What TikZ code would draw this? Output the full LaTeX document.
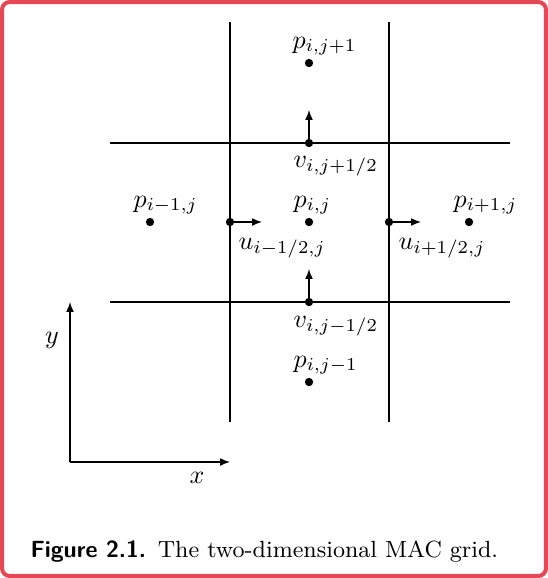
\documentclass[tikz,border=0pt]{standalone}
\usetikzlibrary{arrows.meta}
\definecolor{framered}{RGB}{228,72,84}
\tikzset{
  grid/.style={line width=0.5pt},
  dot/.style={circle,fill=black,inner sep=0pt,minimum size=3.2pt},
  vec/.style={line width=0.5pt,-{Latex[length=3.8pt,width=3pt]}},
  lab/.style={anchor=base west,inner sep=0pt,font=\fontsize{10}{12}\selectfont},
  axlab/.style={inner sep=0pt,font=\fontsize{10}{12}\selectfont},
}
\begin{document}
\begin{tikzpicture}[x=0.3846pt,y=-0.3846pt]
\useasboundingbox (0,0) rectangle (548,578);
\draw[framered,line width=1.55pt,rounded corners=3pt] (2,2) rectangle (546,576);
% grid lines
\coordinate (v1t) at (230,22); \coordinate (v1b) at (230,422);
\coordinate (v2t) at (389,22); \coordinate (v2b) at (389,422);
\coordinate (h1l) at (110,143); \coordinate (h1r) at (510,143);
\coordinate (h2l) at (110,302); \coordinate (h2r) at (510,302);
\draw[grid] (v1t) -- (v1b);
\draw[grid] (v2t) -- (v2b);
\draw[grid] (h1l) -- (h1r);
\draw[grid] (h2l) -- (h2r);
% pressure points
\node[dot] (pij) at (309,222) {};
\node[dot] (pijp) at (309,63) {};
\node[dot] (pijm) at (309,382) {};
\node[dot] (pim) at (150,222) {};
\node[dot] (pip) at (469,222) {};
% velocity points
\node[dot] (uL) at (230,222) {};
\node[dot] (uR) at (389,222) {};
\node[dot] (vT) at (309,143) {};
\node[dot] (vB) at (309,302) {};
\coordinate (uLe) at (262,222);
\coordinate (uRe) at (421,222);
\coordinate (vTe) at (309,110);
\coordinate (vBe) at (309,269);
\draw[vec] (uL.center) -- (uLe);
\draw[vec] (uR.center) -- (uRe);
\draw[vec] (vT.center) -- (vTe);
\draw[vec] (vB.center) -- (vBe);
% labels
\node[lab] (lpijp) at (292,48) {$p_{i,j+1}$};
\node[lab] (lpij) at (293,207) {$p_{i,j}$};
\node[lab] (lpim) at (133,207) {$p_{i-1,j}$};
\node[lab] (lpip) at (453,207) {$p_{i+1,j}$};
\node[lab] (lpijm) at (293,367) {$p_{i,j-1}$};
\node[lab] (lvT) at (293,167) {$v_{i,j+1/2}$};
\node[lab] (lvB) at (293,327) {$v_{i,j-1/2}$};
\node[lab] (luL) at (238,249) {$u_{i-1/2,j}$};
\node[lab] (luR) at (398,249) {$u_{i+1/2,j}$};
% axes
\coordinate (O) at (70,462);
\coordinate (Y) at (70,302);
\coordinate (X) at (230,462);
\draw[vec] (O) -- (Y);
\draw[vec] (O) -- (X);
\node[axlab] (ly) at (52,340) {$y$};
\node[axlab] (lx) at (197,478) {$x$};
% caption
\node[anchor=base west,inner sep=0pt,font=\fontsize{9}{11}\selectfont] (cap) at (30,557)
  {\textsf{\bfseries Figure 2.1.}\enspace The two-dimensional MAC grid.};
\end{tikzpicture}
\end{document}
